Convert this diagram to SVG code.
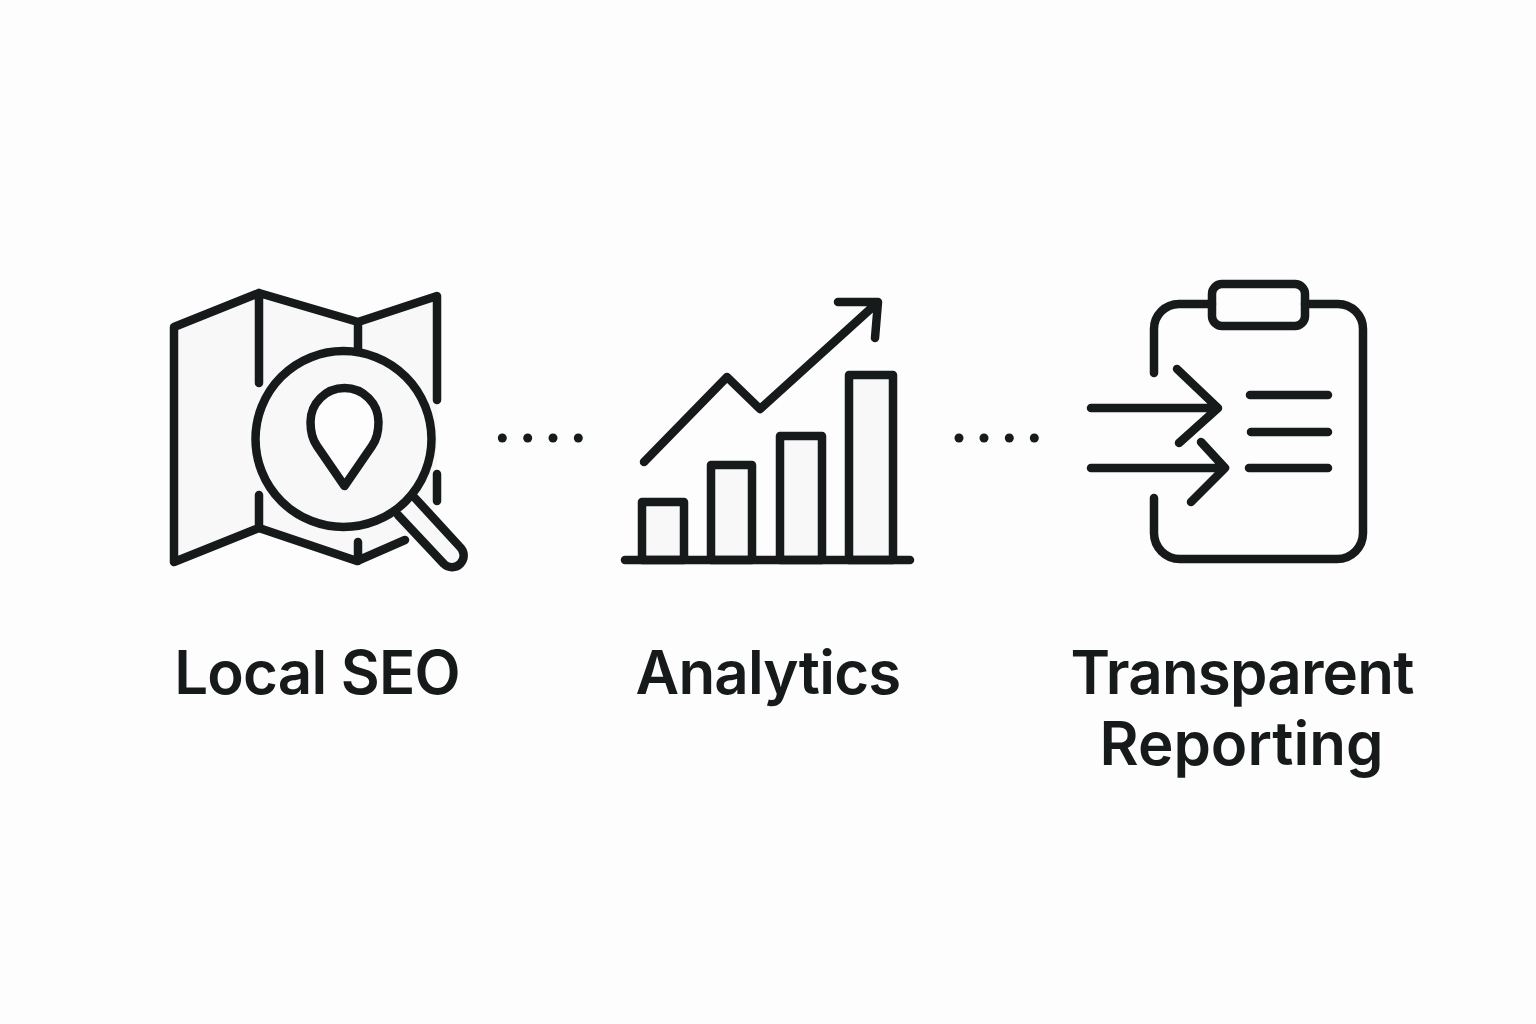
<svg xmlns="http://www.w3.org/2000/svg" width="1536" height="1024" viewBox="0 0 1536 1024">
<style>
.s{fill:none;stroke:#161a1a;stroke-width:8.500;stroke-linecap:round;stroke-linejoin:round}
.f{fill:#f8f8f8}
.w{fill:#fdfdfd}
.t{font-family:"Inter","Liberation Sans",sans-serif;font-weight:600;font-size:60px;letter-spacing:-0.8px;fill:#161a1a;text-anchor:middle}
.d{fill:#161a1a}
</style>
<rect width="1536" height="1024" fill="#fdfdfd"/>
<g id="node-local-seo">
<path class="f" d="M174 327L259 293L358 322L437 296V505L405 540L357 561L259 528L174 562Z"/>
<path class="s" d="M259 383V293M174 562V327L259 293L358 322L437 296V400M437 474V501M259 495V528L174 562M259 528L357 561L405 540M358 350V322M358 542V561"/>
<path class="f s" d="M415 498L460 547A11 11 0 0 1 444 564L398 515"/>
<circle class="f s" cx="343.500" cy="439" r="88"/>
<path class="w s" d="M344.500 486L317 446C312 439 310.500 431 310.500 422A34 34 0 0 1 378.500 422C378.500 431 377 439 372 446Z"/>
<text class="t" x="317" y="693.500">Local SEO</text>
</g>
<g id="node-analytics">
<rect class="f s" x="642" y="502" width="42" height="58"/>
<rect class="f s" x="711" y="465" width="41" height="95"/>
<rect class="f s" x="780" y="436" width="42" height="124"/>
<rect class="f s" x="849" y="375" width="44" height="185"/>
<path class="s" d="M625 560H910"/>
<path class="s" d="M644 462L727 377L760 409L877 303M838 302L878 302L875 338"/>
<text class="t" x="768" y="693.500">Analytics</text>
</g>
<g id="node-reporting">
<path class="s" d="M1154 373V329A25 25 0 0 1 1179 304H1212M1305 304H1338A25 25 0 0 1 1363 329V533A26 26 0 0 1 1337 559H1180A26 26 0 0 1 1154 533V498"/>
<rect class="s" x="1212" y="284" width="93" height="42" rx="10"/>
<path class="s" d="M1091 408H1217M1177 369L1218 408L1179 443M1091 468H1225M1201 442L1225 468L1191 502"/>
<path class="s" d="M1250 395H1328M1251 432H1328M1249 468H1328"/>
<text class="t" x="1242" y="693.500">Transparent</text>
<text class="t" x="1241.500" y="764.500" style="letter-spacing:0">Reporting</text>
</g>
<g id="connectors">
<circle class="d" cx="502.300" cy="438" r="4.500"/><circle class="d" cx="527.700" cy="438" r="4.500"/><circle class="d" cx="553" cy="438" r="4.500"/><circle class="d" cx="578.300" cy="438" r="4.500"/>
<circle class="d" cx="959" cy="438" r="4.500"/><circle class="d" cx="984" cy="438" r="4.500"/><circle class="d" cx="1009.300" cy="438" r="4.500"/><circle class="d" cx="1034.300" cy="438" r="4.500"/>
</g>
</svg>
